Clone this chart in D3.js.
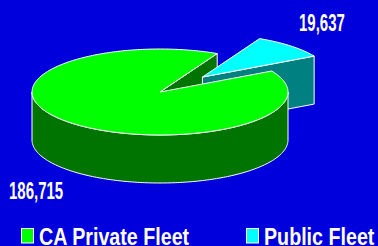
<!DOCTYPE html>
<html>
<head>
<meta charset="utf-8">
<script src="https://d3js.org/d3.v7.min.js"></script>
<style>
  html, body { margin: 0; padding: 0; background: #0000dc; }
  svg { display: block; }
</style>
</head>
<body>
<div id="grafico"></div>
<script>
// chart data
const categories = ["CA Private Fleet", "Public Fleet"];
const values = [186715, 19637];
const valueLabels = ["186,715", "19,637"];
const topColors = ["#00ff00", "#00ffff"];
const sideColors = ["#007400", "#008080"];
const exploded = [0, 0.48];

const ancho = 378, alto = 246;
const cx = 160, cy = 92;      // centre of top face
const rx = 128, ry = 43;      // ellipse radii
const depth = 48;

const svg = d3.select("#grafico").append("svg")
  .attr("width", ancho)
  .attr("height", alto);

svg.append("rect")
  .attr("width", ancho).attr("height", alto)
  .attr("fill", "#0000dc");

const inicio = 60.8 * Math.PI / 180;
const pie = d3.pie().sort(null).startAngle(inicio).endAngle(inicio + 2 * Math.PI);
const arcos = pie(values).map((d, i) => {
  const mid = (d.startAngle + d.endAngle) / 2;
  d.i = i;
  d.dx = exploded[i] * rx * Math.sin(mid);
  d.dy = -exploded[i] * ry * Math.cos(mid);
  d.mid = mid;
  return d;
});

// project an angle/radius/height to screen
function proj(d, a, r, z) {
  return [cx + d.dx + rx * r * Math.sin(a), cy + d.dy - ry * r * Math.cos(a) + z];
}
function arcPts(d, a0, a1, z) {
  const n = Math.max(2, Math.ceil(Math.abs(a1 - a0) / 0.02));
  return d3.range(n + 1).map(k => proj(d, a0 + (a1 - a0) * k / n, 1, z));
}
const linea = d3.line();

const gCaras = svg.append("g");
const gParedes = svg.append("g");
const gTapas = svg.append("g");

// exploded slice faces go in front of the others
const orden = arcos.slice().sort((a, b) => exploded[a.i] - exploded[b.i]);

orden.forEach(d => {
  // radial faces
  [[d.startAngle, Math.sin(d.startAngle) < 0], [d.endAngle, Math.sin(d.endAngle) > 0]].forEach(([a, vis]) => {
    if (!vis) return;
    const pts = [proj(d, a, 0, 0), proj(d, a, 1, 0), proj(d, a, 1, depth), proj(d, a, 0, depth)];
    gCaras.append("path").attr("d", linea(pts) + "Z")
      .attr("fill", sideColors[d.i]).attr("stroke", "#fff").attr("stroke-width", 1);
  });
  // outer wall, front part only
  [0, 2 * Math.PI].forEach(off => {
    const a0 = Math.max(d.startAngle, Math.PI / 2 + off);
    const a1 = Math.min(d.endAngle, 3 * Math.PI / 2 + off);
    if (a1 <= a0) return;
    const pts = arcPts(d, a0, a1, 0).concat(arcPts(d, a1, a0, depth));
    gParedes.append("path").attr("d", linea(pts) + "Z")
      .attr("fill", sideColors[d.i]).attr("stroke", "#fff").attr("stroke-width", 1);
  });
  // top face
  const top = [proj(d, 0, 0, 0)].concat(arcPts(d, d.startAngle, d.endAngle, 0));
  gTapas.append("path").attr("d", linea(top) + "Z")
    .attr("fill", topColors[d.i]).attr("stroke", "#fff").attr("stroke-width", 1)
    .attr("stroke-linejoin", "round");
});

// value labels
const posEtiquetas = [[9, 199], [299, 31]];
valueLabels.forEach((t, i) => {
  svg.append("text")
    .attr("transform", `translate(${posEtiquetas[i][0]},${posEtiquetas[i][1]}) scale(0.625,1)`)
    .attr("fill", "#fff")
    .style("font-family", "'Liberation Sans', Arial, sans-serif")
    .style("font-weight", "bold")
    .style("font-size", "24px")
    .text(t);
});

// legend
const posLeyenda = [21, 246];
categories.forEach((c, i) => {
  const lg = svg.append("g").attr("transform", `translate(${posLeyenda[i]},0)`);
  lg.append("rect")
    .attr("x", 0.5).attr("y", 228.5).attr("width", 12).attr("height", 14.5)
    .attr("fill", topColors[i]).attr("stroke", "#fff").attr("stroke-width", 1);
  lg.append("text")
    .attr("transform", "translate(18,244.5) scale(0.82,1)")
    .attr("fill", "#fff")
    .style("font-family", "'Liberation Sans', Arial, sans-serif")
    .style("font-weight", "bold")
    .style("font-size", "24px")
    .text(c);
});
</script>
</body>
</html>
